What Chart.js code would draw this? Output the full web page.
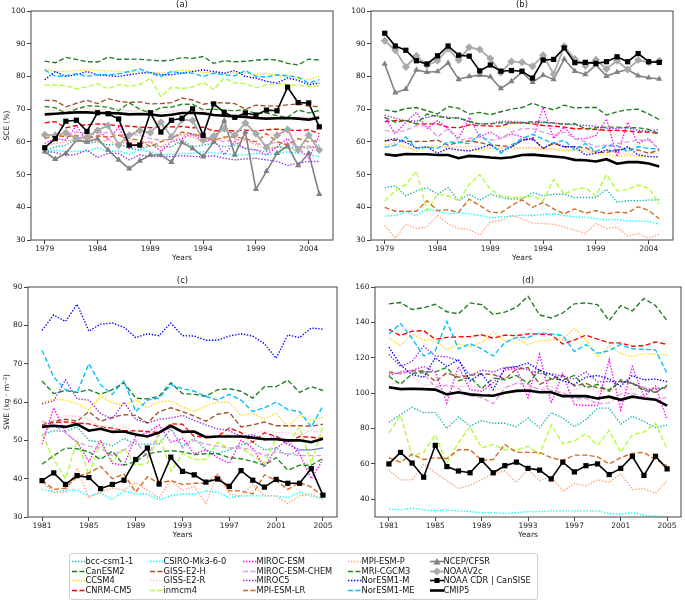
<!DOCTYPE html>
<html>
<head>
<meta charset="utf-8">
<script src="https://cdn.jsdelivr.net/npm/chart.js@4.4.1/dist/chart.umd.min.js"></script>
<style>
  body { margin: 0; background: #fff; }
  #page { position: relative; width: 685px; height: 601px; overflow: hidden; font-family: 'DejaVu Sans', sans-serif; }
  canvas.panel { position: absolute; }
  #legendBox { position: absolute; left: 69px; top: 553px; width: 469px; height: 47px; border: 1px solid #cfcfcf; border-radius: 3px; box-sizing: border-box; }
  .item { position: absolute; height: 9px; line-height: 9px; font-size: 8.3px; color: #111; white-space: nowrap; }
  .item canvas { position: absolute; left: 0; top: 0; }
  .item span { position: absolute; left: 13.5px; top: 0; }
</style>
</head>
<body>
<div id="page">
  <canvas id="pa" class="panel"></canvas>
  <canvas id="pb" class="panel"></canvas>
  <canvas id="pc" class="panel"></canvas>
  <canvas id="pd" class="panel"></canvas>
  <div id="legendBox"></div>
</div>
<script>
// Years and tick labels
const yearsAB = [1979, 1980, 1981, 1982, 1983, 1984, 1985, 1986, 1987, 1988, 1989, 1990, 1991, 1992, 1993, 1994, 1995, 1996, 1997, 1998, 1999, 2000, 2001, 2002, 2003, 2004, 2005];
const yearsCD = [1981, 1982, 1983, 1984, 1985, 1986, 1987, 1988, 1989, 1990, 1991, 1992, 1993, 1994, 1995, 1996, 1997, 1998, 1999, 2000, 2001, 2002, 2003, 2004, 2005];
const xTicksAB = [1979, 1984, 1989, 1994, 1999, 2004];
const xTicksCD = [1981, 1985, 1989, 1993, 1997, 2001, 2005];
const yTicksAB = [30, 40, 50, 60, 70, 80, 90, 100];
const yTicksC = [30, 40, 50, 60, 70, 80, 90];
const yTicksD = [40, 60, 80, 100, 120, 140, 160];

const models = ['bcc-csm1-1', 'CanESM2', 'CCSM4', 'CNRM-CM5', 'CSIRO-Mk3-6-0', 'GISS-E2-H', 'GISS-E2-R', 'inmcm4',
    'MIROC-ESM', 'MIROC-ESM-CHEM', 'MIROC5', 'MPI-ESM-LR', 'MPI-ESM-P', 'MRI-CGCM3', 'NorESM1-M', 'NorESM1-ME',
    'NCEP/CFSR', 'NOAAV2c', 'NOAA CDR | CanSISE', 'CMIP5'];

// (a) SCE
const A_bcc = [57, 58.5, 59, 61, 59.5, 60, 59, 59.5, 58, 57.5, 59, 58.5, 58.5, 60.5, 58.5, 59, 59.5, 58.5, 59, 58, 57.5, 57, 58.5, 58, 58.5, 58, 59];
const A_CanESM2 = [84.7, 84.2, 85.8, 85.2, 84.5, 84.4, 85.9, 85.2, 85.3, 85.2, 85, 84.7, 85, 85.8, 85.5, 86.1, 84, 84.8, 84.5, 84.6, 85, 85.2, 85, 84, 83.5, 85.3, 85];
const A_CCSM4 = [82.3, 81.5, 81.5, 81.8, 82, 81.8, 81.7, 81.6, 81.4, 81.5, 81.3, 81, 81.5, 81.9, 81.8, 81.2, 81, 80.8, 81.1, 81.2, 80.5, 81, 80.2, 79.8, 79.5, 79, 80];
const A_CNRM = [65.8, 66.2, 64.3, 65, 65.2, 65.5, 65.3, 64.9, 64.8, 64.5, 64.3, 64.6, 64.6, 64.7, 64.3, 64.5, 63.3, 63.6, 63.3, 63.6, 63.3, 63.7, 63.9, 63.6, 63.5, 63.7, 62.5];
const A_CSIRO = [56.5, 57.5, 57, 57.2, 57, 58.2, 57, 57.3, 56.2, 57.5, 57, 56, 56.2, 56.5, 56.5, 57, 56.5, 56.5, 56, 56, 56.5, 56, 56.5, 57, 56.5, 56, 55.5];
const A_GISSH = [72.7, 72.6, 70.7, 71.8, 72.7, 71.7, 73.2, 72.4, 72, 72.2, 71.6, 71.7, 72, 73.4, 72.8, 71.5, 72, 71.9, 71.7, 70, 71.2, 71, 70.9, 71.3, 71.6, 70.9, 70.8];
const A_GISSR = [69.5, 69.8, 69.7, 70.5, 70, 69.8, 70, 70.2, 69.5, 69.6, 69.7, 69, 69.3, 69.8, 69.9, 69.5, 68.5, 68, 67.6, 68, 68.3, 68, 67.8, 67.2, 67.6, 67.5, 68];
const A_inmcm4 = [77.3, 77.4, 77.2, 76.2, 76.8, 77.8, 76.2, 77.5, 77, 77.5, 79.5, 73.8, 76.7, 76.3, 76.8, 78.2, 76, 79.5, 78, 77.8, 76.5, 77.5, 77.8, 77.5, 77.3, 77, 77.2];
const A_MIROCESM = [59.5, 61, 60.5, 65, 60, 64, 60.5, 64.5, 58, 59.5, 60, 57, 60, 61, 62.5, 60, 61, 56, 60, 58, 57.5, 56, 58.5, 61, 58, 55, 62];
const A_MIROCCHEM = [62, 61.5, 62, 63, 62.5, 62, 63, 62, 62.5, 62, 61, 60.5, 61, 62.5, 62, 61.5, 61, 60, 60.5, 61, 59.5, 59, 60, 59.5, 58.5, 58.5, 58];
const A_MIROC5 = [57, 56.8, 55.8, 56.2, 57.5, 55.2, 56.5, 56.5, 54.5, 56, 55.5, 55.5, 55.5, 55.8, 55.5, 55.5, 55.8, 55, 54.5, 54.8, 55, 54.5, 54, 52.8, 53.5, 54, 54];
const A_MPILR = [61, 62, 61.5, 62, 61, 61.8, 61.5, 62, 61, 60.5, 58.5, 60, 61, 63, 62.5, 61.5, 60.5, 61.5, 61.5, 61, 60, 62.5, 60, 59, 61, 60, 60.5];
const A_MPIP = [59, 59.5, 60, 61, 60.5, 60, 60.5, 59, 60.5, 59.5, 60, 58.5, 60, 62, 61.5, 60, 60.5, 61, 59.5, 60.5, 59, 58, 58.5, 58, 57.5, 59, 58];
const A_MRI = [70.8, 70.4, 68.8, 70, 71, 70.9, 70.6, 69.5, 71.9, 70, 68.8, 70.5, 70.6, 71.5, 71.5, 69.8, 70, 69.7, 69.5, 69.8, 68.6, 68.8, 68, 67.5, 69.8, 68.8, 69.6];
const A_NorM = [79, 81.5, 80, 80.5, 81.5, 80.5, 80.2, 80, 80.5, 81, 81.2, 80.5, 80.5, 81, 81.5, 82, 81.5, 81, 81.8, 80, 79.5, 78.5, 78, 79.5, 78.8, 77.5, 78];
const A_NorME = [82, 80, 80.2, 80.8, 80, 80.5, 80.5, 80.8, 81.5, 82.3, 81, 80, 81.5, 81, 81, 80, 81, 80.5, 80.2, 81.8, 80, 79.8, 80.5, 80.2, 79.8, 78, 79];
const A_NCEP = [57, 54.7, 56.5, 60.5, 60, 61, 57.5, 54.5, 51.8, 54.2, 56, 56, 53.8, 59.8, 58, 55.5, 60, 66.5, 56, 63, 45.5, 51, 56.5, 58.8, 52.8, 56.5, 44];
const A_NOAAV2c = [62.2, 62, 62.8, 61, 61.5, 63.5, 65, 59, 62, 63.5, 62.8, 66, 61.5, 66.8, 66.5, 60.5, 61.8, 64, 62, 65.8, 62.5, 58.3, 62, 63.8, 57.5, 62, 57.5];
const A_CDR = [58.2, 61, 66.3, 66.6, 63.2, 68.9, 68.6, 67, 59, 59, 68.9, 63, 66.6, 67.2, 70.1, 62, 71.6, 69, 67.5, 68.8, 68.2, 69.7, 69.5, 76.7, 72, 71.9, 64.6];
const A_CMIP5 = [68.4, 68.6, 68.8, 69, 69, 68.8, 68.8, 68.7, 68.4, 68.5, 68.4, 68, 68.3, 68.8, 68.8, 68.7, 68.2, 68, 67.8, 67.6, 67.3, 67.1, 67.2, 67.3, 67.1, 66.8, 67.4];

// (b) SCE
const B_bcc = [46, 46.5, 43.5, 45, 46, 44, 46, 42, 44, 42.2, 44, 43, 42.5, 42.5, 44.5, 43.5, 44, 44, 43, 43, 43, 45.5, 41.5, 42, 42, 42.2, 42.3];
const B_CanESM2 = [69.8, 69.2, 70.2, 70.5, 69.5, 68.5, 70.8, 70.3, 68.5, 69, 68.3, 69.2, 70, 70.5, 71.8, 70.6, 69.8, 71.2, 70.4, 70.5, 70.5, 68.2, 69.2, 69.8, 70, 68.5, 66.8];
const B_CCSM4 = [59, 59.5, 58.5, 57.2, 58.5, 58.8, 58.5, 57.5, 57.5, 57.5, 58, 58.2, 58, 58.2, 58, 57.8, 57.8, 57.2, 57.5, 57, 56.5, 56, 55.5, 56, 55.5, 55.5, 55];
const B_CNRM = [66.2, 66.5, 66.5, 65.5, 65.5, 65.5, 64.5, 64.3, 65.2, 65, 64.8, 64.8, 65.8, 65.8, 65.5, 65, 64.8, 64.5, 64, 64, 63.8, 63.5, 63.5, 63.3, 63, 63, 62.5];
const B_CSIRO = [37.3, 37.5, 38.5, 37.5, 39.5, 38.8, 38, 38.3, 38, 37.5, 36.8, 37, 37.3, 37.5, 37.5, 37.8, 38, 37.5, 37, 37, 36.5, 36.2, 36.3, 35.8, 35.8, 35.7, 34.8];
const B_GISSH = [60.3, 60.5, 60.2, 60.1, 60.2, 60.5, 59, 59.8, 60.3, 59.8, 59, 58.8, 58.5, 60.5, 61, 58, 59.5, 58.5, 58.5, 58.2, 56.8, 56.8, 57.5, 58, 57.5, 56.5, 57.5];
const B_GISSR = [58.5, 58.8, 58.2, 58, 58.5, 58.5, 58.5, 58.5, 58.5, 58.5, 58.2, 58, 58.5, 58, 58.5, 57.5, 58, 57.5, 57.5, 57.5, 57, 57.5, 56.5, 56.5, 56, 56, 56.5];
const B_inmcm4 = [42, 45, 47, 51, 39, 44, 43.5, 42, 47, 50, 45.5, 43.5, 43, 43, 43.5, 42, 48.5, 44, 45.5, 46, 43.5, 50, 45, 45.5, 46.8, 45.8, 41];
const B_MIROCESM = [67.5, 62.5, 66, 69, 64, 66.5, 64, 61, 67.5, 61.5, 63, 61, 62.5, 61.5, 60.5, 70.5, 61, 64.5, 61, 61, 62, 67, 55.5, 66, 59.5, 61, 57.5];
const B_MIROCCHEM = [63.5, 63, 63.5, 65, 65, 61.5, 64, 60.5, 61, 61.5, 60.5, 61, 63, 64, 64, 63, 62, 63, 61, 60, 58.5, 59, 59.5, 60, 60.5, 60.5, 58];
const B_MIROC5 = [68.2, 67.2, 66.5, 66.3, 67.5, 68, 67.5, 67.3, 66, 65.5, 65.5, 66.3, 66.2, 66, 65.8, 66, 65.7, 65.5, 65.2, 65, 64.8, 64.2, 64, 64.5, 63.5, 63.3, 63.8];
const B_MPILR = [40, 38.8, 38.8, 38.8, 42, 39, 39.2, 38.5, 42.5, 40.5, 38.5, 38.3, 40.5, 42.3, 40, 41.5, 39.5, 38, 39.5, 38.2, 39, 38, 38.5, 38.3, 40.2, 39, 36.5];
const B_MPIP = [34.5, 30.5, 34.8, 33.5, 34, 37.5, 35, 33.5, 33.2, 31.5, 35.5, 36, 37.5, 36.5, 35.2, 35, 34.8, 34, 33, 32, 35, 33.5, 34, 31.2, 32, 30.5, 31.8];
const B_MRI = [67.5, 66, 66.5, 65.5, 68.5, 67.8, 67.2, 67.3, 66.3, 65.5, 65.5, 65.8, 65.8, 65.8, 66.2, 66, 65.8, 65.3, 65.6, 64, 64.3, 64.5, 64.5, 64.3, 64.3, 63.8, 62.5];
const B_NorM = [60.3, 61, 59.8, 58.2, 58.5, 56.5, 58, 57.5, 57.2, 58, 59.2, 57, 58.5, 60.5, 61, 58, 59.8, 58.5, 58.5, 56, 56.5, 57.5, 57, 58.5, 56, 55.5, 55.5];
const B_NorME = [58.3, 59, 61.5, 58, 58.3, 58, 60, 59.8, 59.5, 62.3, 59.5, 56.5, 59, 61, 62.3, 60.8, 59.5, 60.5, 57.5, 59.5, 57, 58.8, 58.8, 57, 58.5, 58, 57.8];
const B_NCEP = [83.8, 75, 76.1, 82, 81.3, 81.5, 84.1, 79.1, 80, 80.4, 79.9, 76.3, 78.5, 81.3, 78.2, 80.4, 79.1, 85.3, 81.6, 80.6, 83.5, 80.1, 81.3, 82.1, 80.2, 79.6, 79.2];
const B_NOAAV2c = [90.9, 88, 82.9, 86.3, 83.4, 84.8, 88.5, 85, 88.9, 88.2, 85.5, 81.2, 84.6, 84.3, 83.1, 86.5, 80.7, 89.2, 85.3, 83.3, 85.1, 82.3, 84.8, 82.1, 85, 84.3, 84.8];
const B_CDR = [93.2, 89.3, 88, 84.8, 83.8, 86.3, 89.3, 86.5, 86.2, 81.7, 83.5, 81.6, 81.8, 81.6, 79.5, 85, 85.2, 88.7, 84.2, 84.3, 84, 84.5, 86, 84.5, 87, 84.5, 84.3];
const B_CMIP5 = [56.2, 55.8, 56.3, 56.2, 56.2, 56, 56, 55, 55.7, 55.5, 55.2, 55, 55.3, 56, 56.1, 55.8, 55.5, 55.2, 54.5, 54.4, 54, 54.7, 53.3, 53.8, 53.8, 53.4, 52.5];

// (c) SWE
const C_bcc = [51.5, 52.5, 52.3, 53.5, 50, 49.5, 48.5, 50.5, 49, 49, 49, 53, 48.5, 50.5, 47.5, 46.5, 47.5, 48.8, 49.5, 47.5, 48, 46, 47.5, 47.5, 48];
const C_CanESM2 = [65.5, 62.2, 63, 62.5, 63.2, 62, 63.2, 65, 61, 60.8, 61.5, 65, 62.2, 62, 61.5, 63.2, 63.5, 62.8, 61, 64, 64, 65.7, 62.5, 64, 63];
const C_CCSM4 = [59.8, 60.7, 60.5, 59.5, 58, 61.5, 59.8, 59.2, 60.5, 58.5, 60, 60.3, 58.7, 57.5, 59, 60, 60, 56.5, 57, 55.5, 57.2, 53.5, 56.5, 55.2, 56];
const C_CNRM = [53.5, 54.7, 54.8, 54.5, 54.3, 53.5, 53.2, 52.5, 52.5, 52.3, 52, 54.3, 54.2, 51, 51, 51, 53.2, 52, 49.5, 52, 51, 49.5, 51, 50.8, 50.5];
const C_CSIRO = [37.2, 36.5, 37, 37, 35.5, 36.3, 34.5, 36.8, 36, 36, 34.5, 35.5, 36, 36, 36.8, 36.5, 35, 35.5, 35.5, 35.5, 35.5, 35, 36.5, 35.5, 34.8];
const C_GISSH = [54, 55, 55.5, 55, 57.5, 55, 56, 56.7, 56.5, 54.5, 57.5, 58.5, 57.5, 56.3, 55, 56.8, 57.3, 53.5, 54, 54.8, 53.8, 53.8, 53.8, 53.7, 54.2];
const C_GISSR = [51, 55, 56.5, 56.3, 55.5, 53.5, 52.5, 53.5, 52, 51, 53.5, 52.5, 53, 52.5, 51, 51.2, 51.5, 51, 51.5, 52.5, 52, 52, 51.5, 52.5, 52];
const C_inmcm4 = [51.5, 45, 40, 50, 41, 49.5, 44.5, 48, 43.5, 44, 51.5, 42, 46.5, 45, 45, 49.5, 48, 48, 46, 44, 50.5, 49, 53.5, 44, 53.5];
const C_MIROCESM = [49, 58.5, 52, 49.5, 44.5, 50, 44, 43.5, 51, 52, 54, 49.5, 50.5, 46.5, 47.5, 45.5, 44, 50, 48, 43, 48, 50, 46.5, 40, 45];
const C_MIROCCHEM = [55, 53.8, 52, 49.5, 48.5, 48, 46, 47.5, 50, 45.5, 52, 53, 48, 50, 49, 48.5, 48, 48, 47.5, 46, 47, 46.5, 46, 46, 46];
const C_MIROC5 = [59.5, 60.3, 65.8, 60.8, 60.5, 57, 55.5, 60, 55.5, 54.5, 55.5, 55.8, 56.5, 55.2, 54, 53, 52.5, 51, 51.5, 50, 51, 49, 47.5, 47.5, 48];
const C_MPILR = [39.5, 37.2, 37.5, 40.5, 41.5, 43.2, 40, 41.2, 36.5, 40.5, 38.8, 39.5, 38.5, 38.8, 38.8, 41, 36.8, 36.8, 36, 41, 39.5, 37.2, 39, 37.8, 35.5];
const C_MPIP = [39, 36.5, 36.5, 42.8, 35, 36.5, 37.5, 37, 39, 37, 35, 39.5, 37, 38, 33.5, 41.5, 36, 35.5, 38.5, 35.5, 35.5, 33.5, 35.5, 36, 34.5];
const C_MRI = [43.8, 46, 48, 47.8, 47, 45, 47.2, 43.5, 44.5, 46.5, 47, 47.3, 47, 46.3, 46.5, 46.5, 45.5, 45.2, 44.5, 43.5, 45.5, 42.2, 43.5, 43.5, 45.3];
const C_NorM = [78.7, 82.7, 81, 85.5, 78.5, 80.3, 80.6, 79.5, 76.8, 77.8, 77.3, 80.6, 77.3, 77.2, 76.1, 76.1, 77.2, 77.8, 77.2, 75.2, 71.4, 77.5, 76.8, 79.3, 79];
const C_NorME = [73.5, 66.5, 63.2, 62.5, 70, 64.5, 62, 65.5, 57.5, 60.5, 61, 64.5, 63.5, 62.8, 61.5, 60.5, 62, 60.5, 57.5, 58.5, 60, 58, 57.5, 53.5, 59];
const C_CDR = [39.5, 41.5, 38.5, 40.8, 40.3, 37.4, 38.5, 39.6, 45, 48, 38.6, 45.6, 41.9, 41, 39.1, 39.9, 38, 42.1, 39.6, 37.8, 39.8, 38.8, 38.8, 42.6, 35.7];
const C_CMIP5 = [53.5, 53.8, 53.5, 54.2, 52.5, 53, 52.2, 52.3, 51.5, 51, 52, 53.8, 52.2, 52.3, 50.8, 51, 51, 51, 50.7, 50.3, 50.3, 50, 50, 49.5, 50.4];

// (d) SWE
const D_bcc = [83.5, 88, 92, 89, 89, 80, 86.5, 81.5, 84.5, 83, 83, 81, 86, 80.5, 89, 86, 81, 85, 91.5, 91.5, 82.5, 87, 84, 80.5, 82];
const D_CanESM2 = [150.5, 151.2, 147.3, 148.3, 150.2, 146, 144.8, 151, 150, 144.5, 145.8, 148.5, 154.8, 144.2, 142.5, 145.3, 150.5, 151, 150, 141, 149.5, 146.5, 153.5, 149.5, 141];
const D_CCSM4 = [131.5, 126.5, 133.5, 130, 130, 124.5, 127.5, 126.5, 128.5, 134.5, 129.5, 131, 127.5, 129.5, 130, 130.5, 136.5, 130, 120.5, 126.5, 122.5, 120.5, 122.5, 122, 121.5];
const D_CNRM = [136, 132.5, 135, 135.3, 130.5, 131.5, 131.8, 132, 133, 131, 132.8, 132.5, 133.5, 133.3, 133, 127.8, 130, 132.8, 130.5, 128.5, 128.3, 126.5, 126.8, 129, 127.5];
const D_CSIRO = [34.5, 34, 35, 34, 33.5, 34, 33.5, 33, 32.5, 32.5, 32, 32.5, 33, 33, 33.5, 33.5, 33.5, 33.5, 33.5, 32, 31.5, 32.5, 31, 30.5, 30];
const D_GISSH = [112, 111, 112.5, 112.5, 106.5, 111.5, 109, 110, 111, 110.5, 108, 113.5, 114.5, 105, 108, 110, 104, 105.5, 103, 102, 106.5, 105.5, 103, 100.5, 104];
const D_GISSR = [105, 106, 109.5, 104.5, 105, 104, 104, 104, 103, 101.5, 103, 106, 103.5, 102.5, 104, 100, 102, 104.5, 100.5, 101.5, 103, 102.5, 103, 103, 102];
const D_inmcm4 = [77.5, 87.5, 64.5, 66.5, 76.5, 60.5, 72, 81, 69, 71, 68, 68, 70, 65.5, 82, 71.5, 73, 77, 70.5, 79, 66.5, 76.5, 78, 83, 68.5];
const D_MIROCESM = [110, 112, 113, 115, 112, 94.5, 115, 102, 101, 106, 113, 114, 97.5, 122, 94.5, 111, 93.5, 93, 93, 119, 90.5, 115, 98, 104, 85];
const D_MIROCCHEM = [111, 111.5, 112, 111, 103.5, 104.5, 102.5, 98.5, 97.5, 94, 103, 105.5, 105, 102, 101.5, 100, 97, 97, 94, 94.5, 99.5, 100, 97.5, 96.5, 97.5];
const D_MIROC5 = [122, 115, 118, 126.5, 121, 120.5, 118.5, 110, 113, 112, 114.5, 115, 113, 111, 111, 109.5, 108, 112, 106.5, 106.5, 106.5, 106, 102, 102.5, 103];
const D_MPILR = [63.5, 61, 65.5, 62.5, 63.5, 63, 68, 68, 62, 62.5, 71, 66.5, 66.5, 66.5, 63.5, 62, 65, 65, 64, 60, 63.5, 66, 66.5, 62.5, 59];
const D_MPIP = [56.5, 51, 51, 60, 55, 50.5, 46, 48, 51, 54.5, 56, 49.5, 57, 50.5, 53, 44.5, 49, 47.5, 51, 49.5, 54.5, 45.5, 46, 43.5, 50.5];
const D_MRI = [109.5, 105, 111, 112, 112, 114.5, 107, 109, 102.5, 108.5, 107.5, 110, 105.5, 113, 108, 107.5, 110, 103, 105, 101, 107.5, 105.5, 101.5, 100.5, 104.5];
const D_NorM = [126, 116, 110.5, 109, 120, 115, 119, 107, 111, 102, 114, 115, 117, 113, 110.5, 107, 105, 109, 110, 108, 104, 110, 107.5, 108, 106.5];
const D_NorME = [133.5, 139.3, 131, 121, 124, 140.5, 125, 128, 125, 121, 128.5, 131.5, 131.5, 134, 133.5, 132.5, 123.5, 127.5, 122.5, 124, 127.5, 125, 124.8, 124.5, 111];
const D_CDR = [60, 66.5, 60.5, 52.5, 70.5, 58.5, 56, 55, 62, 55, 59, 61, 57.5, 56.5, 51.5, 61, 55.5, 59, 60, 54, 57.5, 64.3, 53.5, 64.3, 57.2];
const D_CMIP5 = [103.3, 102.3, 102.5, 102.3, 102, 99.3, 100.5, 99.3, 98.8, 98.5, 100.2, 101.3, 101.5, 100.5, 100.5, 98.3, 98.3, 98.3, 97, 98, 96.2, 98, 97, 96.3, 93];

// Series per panel, in legend order (null = not shown in that panel)
const panelA = [A_bcc, A_CanESM2, A_CCSM4, A_CNRM, A_CSIRO, A_GISSH, A_GISSR, A_inmcm4, A_MIROCESM, A_MIROCCHEM, A_MIROC5, A_MPILR, A_MPIP, A_MRI, A_NorM, A_NorME, A_NCEP, A_NOAAV2c, A_CDR, A_CMIP5];
const panelB = [B_bcc, B_CanESM2, B_CCSM4, B_CNRM, B_CSIRO, B_GISSH, B_GISSR, B_inmcm4, B_MIROCESM, B_MIROCCHEM, B_MIROC5, B_MPILR, B_MPIP, B_MRI, B_NorM, B_NorME, B_NCEP, B_NOAAV2c, B_CDR, B_CMIP5];
const panelC = [C_bcc, C_CanESM2, C_CCSM4, C_CNRM, C_CSIRO, C_GISSH, C_GISSR, C_inmcm4, C_MIROCESM, C_MIROCCHEM, C_MIROC5, C_MPILR, C_MPIP, C_MRI, C_NorM, C_NorME, null, null, C_CDR, C_CMIP5];
const panelD = [D_bcc, D_CanESM2, D_CCSM4, D_CNRM, D_CSIRO, D_GISSH, D_GISSR, D_inmcm4, D_MIROCESM, D_MIROCCHEM, D_MIROC5, D_MPILR, D_MPIP, D_MRI, D_NorM, D_NorME, null, null, D_CDR, D_CMIP5];

// Styles (colour, line kind, marker)
const DOT = [1.4, 1.6];
const DASH = [5, 2.5];
const styles = [
    { color: '#20b2aa', dash: DOT },
    { color: '#1f7a1f', dash: DASH },
    { color: '#ffd700', dash: DOT },
    { color: '#ff0000', dash: DASH },
    { color: '#00ffff', dash: DOT },
    { color: '#a0522d', dash: DASH },
    { color: '#ffc0cb', dash: DOT },
    { color: '#adff2f', dash: DASH },
    { color: '#ff00ff', dash: DOT },
    { color: '#dda0dd', dash: DASH },
    { color: '#8a2be2', dash: DOT },
    { color: '#d2691e', dash: DASH },
    { color: '#ffa07a', dash: DOT },
    { color: '#228b22', dash: DASH },
    { color: '#0000ff', dash: DOT },
    { color: '#00bfff', dash: DASH },
    { color: '#808080', dash: [], width: 1.6, marker: 'triangle', radius: 3.6 },
    { color: '#a9a9a9', dash: [], width: 1.8, marker: 'rectRot', radius: 4 },
    { color: '#000000', dash: [], width: 1.6, marker: 'rect', radius: 3.7 },
    { color: '#000000', dash: [], width: 2.6 }
];

const FONT = { family: "'DejaVu Sans', sans-serif", size: 7.5 };
const TEXT = '#222';

function buildDatasets(series, years) {
    const out = [];
    series.forEach((vals, i) => {
        if (!vals) return;
        const s = styles[i];
        out.push({
            label: models[i],
            data: years.map((x, k) => ({ x, y: vals[k] })),
            borderColor: s.color,
            backgroundColor: s.color,
            borderWidth: s.width || 1.35,
            borderDash: s.dash,
            pointStyle: s.marker || 'circle',
            pointRadius: s.marker ? s.radius : 0,
            pointBorderWidth: 0,
            pointBackgroundColor: s.color,
            tension: 0,
            order: styles.length - i
        });
    });
    return out;
}

const framePlugin = {
    id: 'frame',
    afterDraw(chart, args, opts) {
        const { ctx, chartArea: a } = chart;
        ctx.save();
        ctx.strokeStyle = '#555';
        ctx.lineWidth = 1.1;
        ctx.strokeRect(a.left, a.top, a.right - a.left, a.bottom - a.top);
        ctx.fillStyle = TEXT;
        ctx.font = "8.5px 'DejaVu Sans', sans-serif";
        ctx.textAlign = 'center';
        ctx.textBaseline = 'middle';
        ctx.fillText(opts.title, (a.left + a.right) / 2, a.top - 6);
        ctx.restore();
    }
};

function makePanel(cfg) {
    const canvas = document.getElementById(cfg.id);
    canvas.width = cfg.w;
    canvas.height = cfg.h;
    canvas.style.left = cfg.left + 'px';
    canvas.style.top = cfg.top + 'px';
    new Chart(canvas, {
        type: 'line',
        data: { datasets: buildDatasets(cfg.series, cfg.years) },
        options: {
            responsive: false,
            animation: false,
            layout: { padding: { top: cfg.padTop, right: cfg.padRight, left: 0, bottom: 0 } },
            plugins: {
                legend: { display: false },
                tooltip: { enabled: false },
                frame: { title: cfg.title }
            },
            scales: {
                x: {
                    type: 'linear',
                    min: cfg.xMin,
                    max: cfg.xMax,
                    afterBuildTicks: s => { s.ticks = cfg.xTicks.map(v => ({ value: v })); },
                    afterFit: s => { s.height = 25; },
                    ticks: { callback: v => String(v), font: FONT, color: TEXT, padding: 1, maxRotation: 0, autoSkip: false },
                    grid: { drawOnChartArea: false, tickLength: 4, color: '#444' },
                    border: { display: false },
                    title: { display: true, text: 'Years', font: FONT, color: TEXT, padding: { top: 0, bottom: 2.5 } }
                },
                y: {
                    min: cfg.yMin,
                    max: cfg.yMax,
                    afterBuildTicks: s => { s.ticks = cfg.yTicks.map(v => ({ value: v })); },
                    afterFit: s => { s.width = cfg.yW; },
                    ticks: { callback: v => String(v), font: FONT, color: TEXT, padding: 1.5 },
                    grid: { drawOnChartArea: false, tickLength: 4, color: '#444' },
                    border: { display: false },
                    title: { display: !!cfg.yTitle, text: cfg.yTitle, font: FONT, color: TEXT, padding: { top: 3, bottom: 0 } }
                }
            }
        },
        plugins: [framePlugin]
    });
}

makePanel({ id: 'pa', left: 0, top: 0, w: 340, h: 265, yW: 31, padTop: 11, padRight: 7,
    xMin: 1977.7, xMax: 2006.3, xTicks: xTicksAB, years: yearsAB,
    yMin: 30, yMax: 100, yTicks: yTicksAB, yTitle: 'SCE (%)', title: '(a)', series: panelA });
makePanel({ id: 'pb', left: 340, top: 0, w: 345, h: 265, yW: 31, padTop: 11, padRight: 12,
    xMin: 1977.7, xMax: 2006.3, xTicks: xTicksAB, years: yearsAB,
    yMin: 30, yMax: 100, yTicks: yTicksAB, yTitle: '', title: '(b)', series: panelB });
makePanel({ id: 'pc', left: 0, top: 270, w: 342, h: 272, yW: 28, padTop: 17, padRight: 5,
    xMin: 1979.8, xMax: 2006.2, xTicks: xTicksCD, years: yearsCD,
    yMin: 30, yMax: 90, yTicks: yTicksC, yTitle: 'SWE (kg · m⁻²)', title: '(c)', series: panelC });
makePanel({ id: 'pd', left: 342, top: 270, w: 343, h: 272, yW: 33, padTop: 17, padRight: 2,
    xMin: 1979.8, xMax: 2006.2, xTicks: xTicksCD, years: yearsCD,
    yMin: 30, yMax: 160, yTicks: yTicksD, yTitle: '', title: '(d)', series: panelD });

// Legend: 5 columns x 4 rows, column-major like matplotlib
const legendCols = [72, 150, 243, 348, 430];
const legendRows = [557, 566.5, 576, 585.5];
const page = document.getElementById('page');
models.forEach((name, i) => {
    const s = styles[i];
    const item = document.createElement('div');
    item.className = 'item';
    item.style.left = legendCols[Math.floor(i / 4)] + 'px';
    item.style.top = legendRows[i % 4] + 'px';
    const c = document.createElement('canvas');
    c.width = 14; c.height = 9;
    const g = c.getContext('2d');
    g.strokeStyle = s.color;
    g.lineWidth = s.width || 1.6;
    g.setLineDash(s.dash);
    g.beginPath(); g.moveTo(0, 4.5); g.lineTo(14, 4.5); g.stroke();
    g.setLineDash([]);
    g.fillStyle = s.color;
    if (s.marker === 'rect') g.fillRect(4.5, 2, 5, 5);
    if (s.marker === 'triangle') { g.beginPath(); g.moveTo(7, 1); g.lineTo(10.5, 7.5); g.lineTo(3.5, 7.5); g.closePath(); g.fill(); }
    if (s.marker === 'rectRot') { g.beginPath(); g.moveTo(7, 0.5); g.lineTo(11, 4.5); g.lineTo(7, 8.5); g.lineTo(3, 4.5); g.closePath(); g.fill(); }
    const t = document.createElement('span');
    t.textContent = name;
    item.appendChild(c);
    item.appendChild(t);
    page.appendChild(item);
});
</script>
</body>
</html>
